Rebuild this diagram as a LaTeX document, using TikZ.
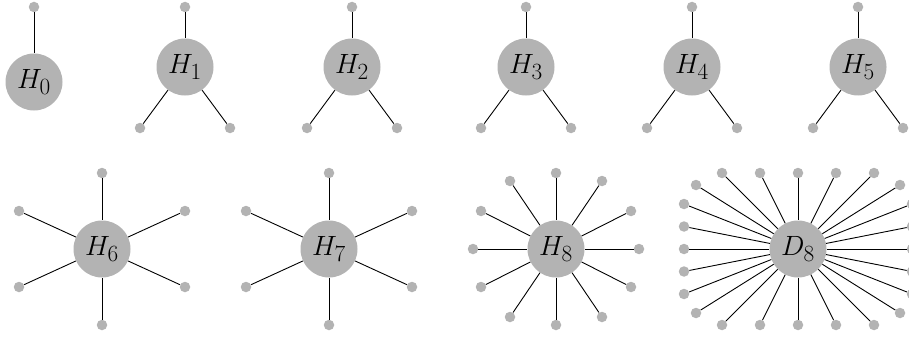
\documentclass[tikz,border=0pt]{standalone}
\usepackage{graphicx}
\definecolor{hubgray}{HTML}{B3B3B3}
\newcommand{\hublabel}[1]{\scalebox{1.12}{\Huge$#1$}}
\tikzset{
  hub/.style={circle,fill=hubgray,inner sep=0pt,minimum size=57pt},
  leaf/.style={circle,fill=hubgray,inner sep=0pt,minimum size=10.5pt},
  edge/.style={line width=0.9pt,black}
}
\begin{document}
\begin{tikzpicture}[x=1pt,y=-1pt]
\useasboundingbox (0,0) rectangle (909,337);
\clip (0,0) rectangle (909,337);
% H0
\node[hub] (h0) at (34,82) {\hublabel{H_0}};
\node[leaf] (h0-a) at (34,7) {};
\draw[edge] (h0-a) -- (h0);
% H1..H5
\foreach \n/\cx in {1/185,2/352,3/526,4/692,5/858} {
  \node[hub] (h\n) at (\cx,67) {\hublabel{H_{\n}}};
  \node[leaf] (h\n-a) at (\cx,7) {};
  \node[leaf] (h\n-b) at (\cx-45,128) {};
  \node[leaf] (h\n-c) at (\cx+45,128) {};
  \draw[edge] (h\n-a) -- (h\n);
  \draw[edge] (h\n-b) -- (h\n);
  \draw[edge] (h\n-c) -- (h\n);
}
% H6, H7
\foreach \n/\cx in {6/102,7/329} {
  \node[hub] (h\n) at (\cx,249) {\hublabel{H_{\n}}};
  \foreach \dx/\dy [count=\i] in {0/-76,0/76,-83/-38,-83/38,83/-38,83/38} {
    \node[leaf] (h\n-\i) at ([shift={(\dx,\dy)}]h\n.center) {};
    \draw[edge] (h\n-\i) -- (h\n);
  }
}
% H8
\node[hub] (h8) at (556,249) {\hublabel{H_8}};
\foreach \dx/\dy [count=\i] in {0/-76,0/76,-83/0,83/0,-46/-68,46/-68,-46/68,46/68,-75/-38,75/-38,-75/38,75/38} {
  \node[leaf] (h8-\i) at ([shift={(\dx,\dy)}]h8.center) {};
  \draw[edge] (h8-\i) -- (h8);
}
% D8
\node[hub] (d8) at (798,249) {\hublabel{D_8}};
\foreach \dx/\dy [count=\i] in {-76/-76,-38/-76,0/-76,38/-76,76/-76,
  -76/76,-38/76,0/76,38/76,76/76,
  -102/-64,102/-64,-102/64,102/64,
  -114/-45,-114/-22.5,-114/0,-114/22.5,-114/45,
  114/-45,114/-22.5,114/0,114/22.5,114/45} {
  \node[leaf] (d8-\i) at ([shift={(\dx,\dy)}]d8.center) {};
  \draw[edge] (d8-\i) -- (d8);
}
\end{tikzpicture}
\end{document}
